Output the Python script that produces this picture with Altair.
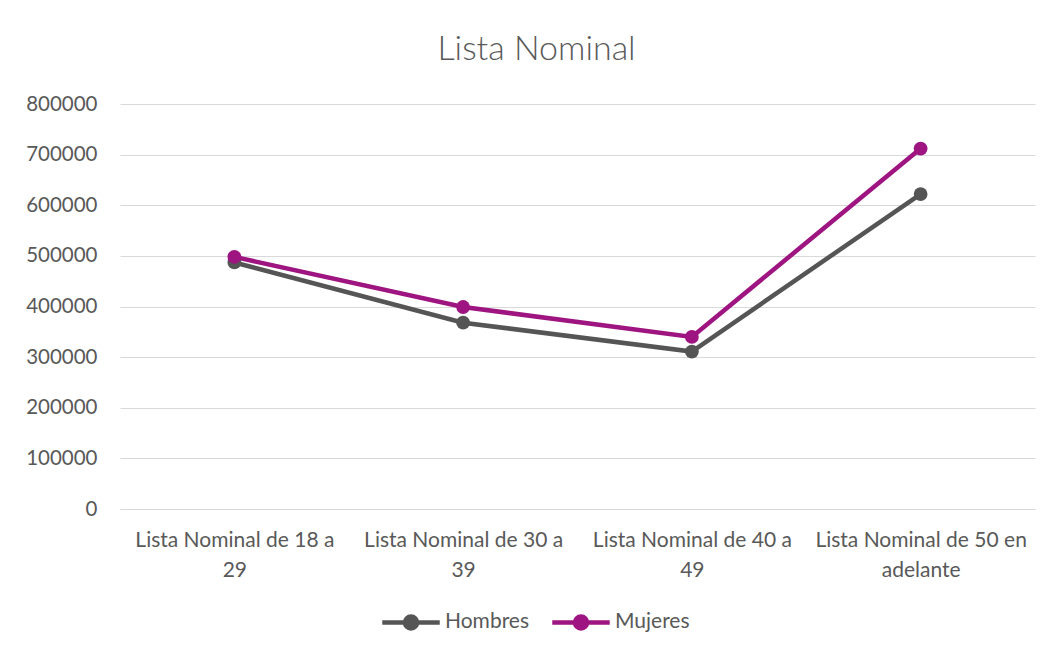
import altair as alt
import pandas as pd

categories = [
    "Lista Nominal de 18 a 29",
    "Lista Nominal de 30 a 39",
    "Lista Nominal de 40 a 49",
    "Lista Nominal de 50 en adelante",
]
hombres = [487000, 368000, 311000, 622000]
mujeres = [498000, 399000, 340000, 712000]
series = ["Hombres", "Mujeres"]
colors = ["#555555", "#9E1480"]
y_ticks = [0, 100000, 200000, 300000, 400000, 500000, 600000, 700000, 800000]

rows = []
for c, h, m in zip(categories, hombres, mujeres):
    rows.append({"cat": c, "serie": "Hombres", "valor": h})
    rows.append({"cat": c, "serie": "Mujeres", "valor": m})
df = pd.DataFrame(rows)

FONT = "Lato"
TXT = "#595959"

sym = "M-1,0L1,0M0.21,0A0.21,0.21,0,1,1,-0.21,0A0.21,0.21,0,1,1,0.21,0Z"

chart = (
    alt.Chart(df)
    .mark_line(strokeWidth=4.5, point=alt.OverlayMarkDef(size=190, filled=True))
    .encode(
        x=alt.X(
            "cat:N",
            sort=categories,
            title=None,
            scale=alt.Scale(paddingInner=0, paddingOuter=0.5),
            axis=alt.Axis(
                labelAngle=0,
                labelExpr="[slice(datum.label, 0, lastindexof(datum.label, ' ')), slice(datum.label, lastindexof(datum.label, ' ') + 1)]",
                labelFontSize=21,
                labelColor=TXT,
                labelFont=FONT,
                labelLineHeight=30,
                labelPadding=20,
                labelBaseline="top",
                labelLimit=0,
                ticks=False,
                domain=True,
                domainColor="#d9d9d9",
                domainWidth=1,
                grid=False,
            ),
        ),
        y=alt.Y(
            "valor:Q",
            title=None,
            scale=alt.Scale(domain=[0, 800000], nice=False),
            axis=alt.Axis(
                values=y_ticks,
                format="d",
                labelFontSize=20.5,
                labelColor=TXT,
                labelFont=FONT,
                labelPadding=23,
                ticks=False,
                domain=False,
                gridColor="#d9d9d9",
                gridWidth=1,
            ),
        ),
        color=alt.Color(
            "serie:N",
            scale=alt.Scale(domain=series, range=colors),
            legend=alt.Legend(
                title=None,
                orient="none",
                legendX=260,
                legendY=487,
                direction="horizontal",
                symbolType=sym,
                symbolSize=3300,
                symbolStrokeWidth=4.5,
                labelFontSize=21,
                labelColor=TXT,
                labelFont=FONT,
                columnPadding=13,
                symbolOffset=0,
                labelOffset=3,
            ),
        ),
    )
    .properties(
        width=915,
        height=405,
        background="white",
        title=alt.TitleParams(
            "Lista Nominal",
            fontSize=34,
            font=FONT,
            fontWeight=300,
            color=TXT,
            anchor="middle",
            dx=-41,
            offset=27,
        ),
        autosize=alt.AutoSizeParams(type="none"),
        padding={"left": 112, "top": 96, "right": 10, "bottom": 140},
    )
    .configure_view(strokeWidth=0, stroke=None)
)

chart.save("out.html", embed_options={"renderer": "svg", "actions": False})
